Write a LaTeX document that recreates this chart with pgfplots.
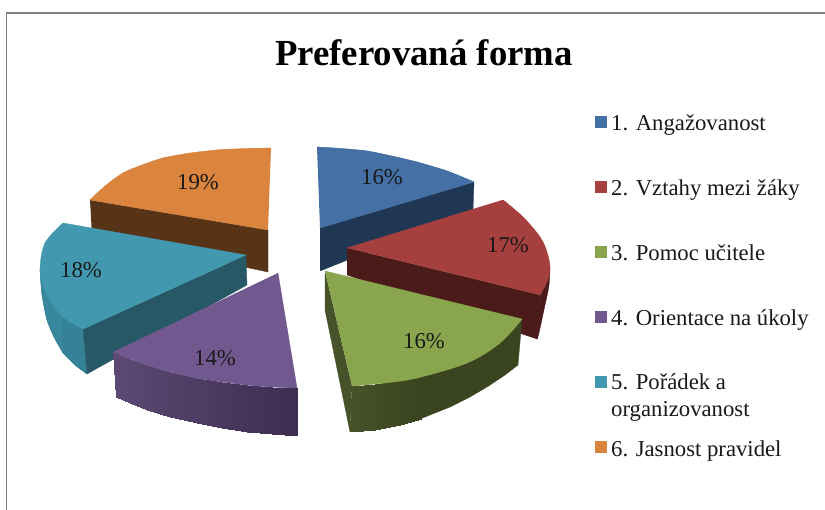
\documentclass[border=0pt]{standalone}
\usepackage{fontspec}
\setmainfont{Liberation Serif}
\usepackage{pgfplots}
\pgfplotsset{compat=1.18}
\definecolor{cb}{HTML}{4470A5}\definecolor{cbs}{HTML}{203754}
\definecolor{cr}{HTML}{A5403E}\definecolor{crs}{HTML}{4A1B19}
\definecolor{cg}{HTML}{89A54E}\definecolor{cgs}{HTML}{3A441F}\definecolor{cgl}{HTML}{46522A}
\definecolor{cp}{HTML}{71588F}\definecolor{cpa}{HTML}{5C4A75}\definecolor{cpb}{HTML}{3D2D50}
\definecolor{ct}{HTML}{4198AF}\definecolor{cts}{HTML}{275866}\definecolor{cta}{HTML}{38879C}\definecolor{ctb}{HTML}{358297}
\definecolor{co}{HTML}{DB843D}\definecolor{cos}{HTML}{573317}
\tikzset{
  lab/.style={font=\fontsize{22.8}{26}\selectfont,anchor=base west,inner sep=0pt,text=black!90},
  pct/.style={font=\fontsize{22.8}{26}\selectfont,anchor=center,inner sep=0pt,text=black!90},
}
\pgfplotsset{
  f/.style={fill=#1,draw=#1,line width=0.3pt,no markers,forget plot},
  s/.style={f=#1,smooth,tension=0.6},
  g/.style={patch,patch type=rectangle,shader=interp,point meta=explicit,colormap name=#1,forget plot},
}
\begin{document}
\begin{tikzpicture}
\begin{axis}[
  scale only axis,width=825bp,height=510bp,xmin=0,xmax=825,ymin=0,ymax=510,y dir=reverse,
  hide axis,clip=true,point meta min=0,point meta max=1,
  colormap={pur}{color=(cpa) color=(cpb)},
  colormap={gre}{color=(cgl) color=(cgs)}]
% background and frame
\addplot[fill=white,draw=none,forget plot] coordinates {(0,0)(825,0)(825,510)(0,510)};
\addplot[draw=black!50,line width=2pt,no markers,forget plot] coordinates {(6.5,510)(6.5,13.5)(825,13.5)};
% orange
\addplot[f=cos] coordinates {(90,200)(268,230)(268,272)(92,235)};
\addplot[f=co] coordinates {(271,148)(217,150)(163,158)(123,173)(90,200)(268,230)};
\addplot[s=co] coordinates {(271,148)(240,148.7)(217,150)(190,153)(163,158)(142,165)(123,173)(105,186)(90,200)};
% blue
\addplot[f=cbs] coordinates {(320,228)(474,182)(473,210)(320,271)};
\addplot[f=cb] coordinates {(317,147)(367,151)(417,162)(447,171)(474,182)(320,228)};
\addplot[s=cb] coordinates {(317,147)(342,148.5)(367,151)(392,156)(417,162)(447,171)(474,182)};
% red
\addplot[s=crs] coordinates {(550,268)(549,285)(545,305)(537,339)(540,295)};
\addplot[f=crs] coordinates {(347,248)(540,295)(537,339)(347,275)};
\addplot[f=cr] coordinates {(347,248)(503,200)(523,217)(540,237)(550,268)(540,295)};
\addplot[s=cr] coordinates {(503,200)(523,217)(540,237)(547,252)(550,268)(547,282)(540,295)};
% teal
\addplot[f=cta] coordinates {(40,270)(42,295)(47,320)(54,337)(63,353)(63,317)(50,300)};
\addplot[f=ctb] coordinates {(63,317)(63,353)(75,365)(87,374)(83,329)};
\addplot[s=cta] coordinates {(40,270)(42,295)(47,320)(54,337)(63,353)};
\addplot[s=ctb] coordinates {(63,353)(75,365)(87,374)};
\addplot[f=cts] coordinates {(246,255)(247,285)(87,374)(83,329)};
\addplot[f=ct] coordinates {(63,223)(246,255)(83,329)(63,317)(50,300)(44,287)(40,270)(45,243)};
\addplot[s=ct] coordinates {(63,223)(45,243)(40,270)(44,287)(50,300)(63,317)(83,329)};
% purple
\addplot[g=pur] coordinates {
 (113,352)[0](130,359)[0.1](130,403.5)[0.1](116,397)[0]
 (130,359)[0.1](147,365)[0.2](147,410)[0.2](130,403.5)[0.1]
 (147,365)[0.2](170,372)[0.33](170,417.5)[0.33](147,410)[0.2]
 (170,372)[0.33](197,378)[0.47](197,423)[0.47](170,417.5)[0.33]
 (197,378)[0.47](222,382)[0.6](222,428)[0.6](197,423)[0.47]
 (222,382)[0.6](247,385)[0.73](247,432)[0.73](222,428)[0.6]
 (247,385)[0.73](272,387)[0.87](272,434.5)[0.87](247,432)[0.73]
 (272,387)[0.87](297,388)[1](297,436)[1](272,434.5)[0.87]};
\addplot[f=cp] coordinates {(278,273)(297,388)(247,385)(197,378)(147,365)(113,352)};
\addplot[s=cp] coordinates {(297,388)(272,387)(247,385)(222,382)(197,378)(170,372)(147,365)(113,352)};
% green
\addplot[f=cgl] coordinates {(325,271)(325,310)(350,432)(352,386)};
\addplot[f=cgs] coordinates {(420,375)(467,363)(500,343)(522,319)(518,365)(505,375)(487,387)(470,397)(450,407)(425,417)(420,419)};
\addplot[g=gre] coordinates {
 (352,386)[0](375,384)[0.35](375,430)[0.35](350,432)[0]
 (375,384)[0.35](400,380)[0.7](400,425)[0.7](375,430)[0.35]
 (400,380)[0.7](421,375)[1](421,419)[1](400,425)[0.7]};
\addplot[f=cg] coordinates {(325,271)(522,319)(500,343)(467,363)(417,378)(352,386)};
\addplot[s=cg] coordinates {(522,319)(500,343)(467,363)(417,378)(385,383)(352,386)};
% legend keys
\addplot[only marks,mark=square*,mark size=5.5bp,mark options={fill=cb,draw=cb},forget plot] coordinates {(600.5,122)};
\addplot[only marks,mark=square*,mark size=5.5bp,mark options={fill=cr,draw=cr},forget plot] coordinates {(600.5,187)};
\addplot[only marks,mark=square*,mark size=5.5bp,mark options={fill=cg,draw=cg},forget plot] coordinates {(600.5,252)};
\addplot[only marks,mark=square*,mark size=5.5bp,mark options={fill=cp,draw=cp},forget plot] coordinates {(600.5,317)};
\addplot[only marks,mark=square*,mark size=5.5bp,mark options={fill=ct,draw=ct},forget plot] coordinates {(600.5,382)};
\addplot[only marks,mark=square*,mark size=5.5bp,mark options={fill=co,draw=co},forget plot] coordinates {(600.5,447)};
% texts
\node[anchor=base,font=\fontsize{36.9}{40}\selectfont\bfseries,inner sep=0pt] at (axis cs:424,66) {Preferovaná forma};
\node[lab] at (axis cs:611,130.5) {1. Angažovanost};
\node[lab] at (axis cs:611,196) {2. Vztahy mezi žáky};
\node[lab] at (axis cs:611,261) {3. Pomoc učitele};
\node[lab] at (axis cs:611,326) {4. Orientace na úkoly};
\node[lab] at (axis cs:611,390) {5. Pořádek a};
\node[lab] at (axis cs:611,417) {organizovanost};
\node[lab] at (axis cs:611,457) {6. Jasnost pravidel};
\node[pct] at (axis cs:382,177) {16\%};
\node[pct] at (axis cs:508,245) {17\%};
\node[pct] at (axis cs:424,341) {16\%};
\node[pct] at (axis cs:215,358) {14\%};
\node[pct] at (axis cs:81,270) {18\%};
\node[pct] at (axis cs:198,182) {19\%};
\end{axis}
\end{tikzpicture}
\end{document}
